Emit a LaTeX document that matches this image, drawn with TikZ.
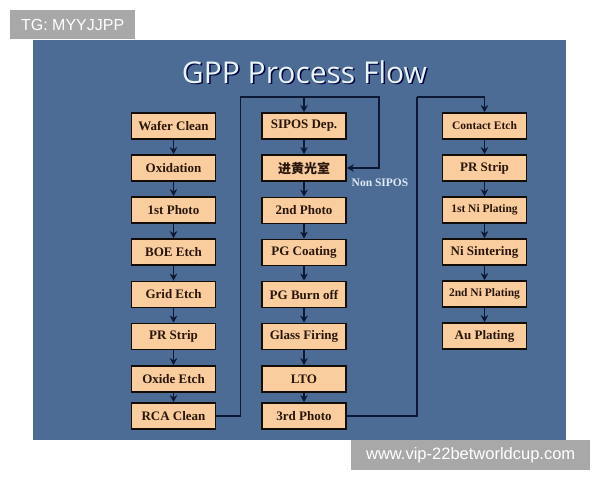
\documentclass[tikz,border=0pt]{standalone}
\usepackage{fontspec}
\setmainfont{Liberation Serif}
\newfontfamily\wmfont{Liberation Sans}
\newfontfamily\titlefont{Open Sans}
\newfontfamily\cjk{Noto Sans CJK SC}
\usetikzlibrary{arrows.meta,calc}
\definecolor{slideblue}{RGB}{76,107,149}
\definecolor{boxfill}{RGB}{250,205,158}
\definecolor{boxtext}{RGB}{40,22,10}
\definecolor{linecol}{RGB}{12,24,52}
\definecolor{wmgray}{RGB}{168,168,168}
\definecolor{titlecol}{RGB}{232,244,246}
\definecolor{notecol}{RGB}{225,235,245}
\tikzset{
  procbox/.style={draw=black!90!brown, line width=1.8pt, fill=boxfill, minimum width=84pt, minimum height=26pt, inner sep=0pt, text=boxtext, font=\bfseries\fontsize{13}{13}\selectfont},
  smallbox/.style={procbox, font=\bfseries\fontsize{11.5}{11.5}\selectfont},
  flow/.style={draw=linecol, line width=1.6pt, -{Stealth[length=7pt,width=7.5pt]}},
  plainline/.style={draw=linecol, line width=1.6pt},
  wmbox/.style={fill=wmgray, text=white, inner sep=0pt, font=\wmfont},
}
\begin{document}
\begin{tikzpicture}[x=1pt,y=-1pt]
\useasboundingbox (0,0) rectangle (600,480);
\fill[white] (0,0) rectangle (600,480);
\fill[slideblue] (33,40) rectangle (566,440);
% watermarks
\node[wmbox, minimum width=125pt, minimum height=29pt, anchor=north west] (tg) at (10,10) {\fontsize{16}{16}\selectfont TG: MYYJJPP};
\node[wmbox, minimum width=239pt, minimum height=30pt, anchor=north west] (url) at (351,440) {\fontsize{16.5}{16.5}\selectfont www.vip-22betworldcup.com};
% title
\node[text=black!75!blue, font=\titlefont\fontsize{30}{30}\selectfont] (titleshadow) at (306,73.5) {GPP Process Flow};
\node[text=titlecol, font=\titlefont\fontsize{30}{30}\selectfont] (title) at (304.5,72) {GPP Process Flow};
% column 1
\node[procbox] (a1) at (173.5,126) {Wafer Clean};
\node[procbox] (a2) at (173.5,168) {Oxidation};
\node[procbox] (a3) at (173.5,210) {1st Photo};
\node[procbox] (a4) at (173.5,252) {BOE Etch};
\node[procbox] (a5) at (173.5,294.5) {Grid Etch};
\node[procbox] (a6) at (173.5,336.5) {PR Strip};
\node[procbox] (a7) at (173.5,379) {Oxide Etch};
\node[procbox] (a8) at (173.5,416) {RCA Clean};
% column 2
\node[procbox] (b1) at (304,126) {SIPOS Dep.};
\node[procbox, font=\cjk\bfseries\fontsize{13}{13}\selectfont] (b2) at (304,168) {进黄光室};
\node[procbox] (b3) at (304,210.5) {2nd Photo};
\node[procbox] (b4) at (304,252.5) {PG Coating};
\node[procbox] (b5) at (304,294.5) {PG Burn off};
\node[procbox] (b6) at (304,336.5) {Glass Firing};
\node[procbox] (b7) at (304,379) {LTO};
\node[procbox] (b8) at (304,416) {3rd Photo};
% column 3
\node[smallbox] (c1) at (484.5,126) {Contact Etch};
\node[procbox] (c2) at (484.5,168) {PR Strip};
\node[smallbox] (c3) at (484.5,210) {1st Ni Plating};
\node[procbox] (c4) at (484.5,252) {Ni Sintering};
\node[smallbox] (c5) at (484.5,294) {2nd Ni Plating};
\node[procbox] (c6) at (484.5,336) {Au Plating};
% note
\node[text=notecol, font=\bfseries\fontsize{11.5}{11.5}\selectfont] (note) at (380,183) {Non SIPOS};
% vertical arrows
\foreach \p/\q in {a1/a2,a2/a3,a3/a4,a4/a5,a5/a6,a6/a7,a7/a8,b1/b2,b2/b3,b3/b4,b4/b5,b5/b6,b6/b7,b7/b8,c1/c2,c2/c3,c3/c4,c4/c5,c5/c6}
  \draw[flow] (\p.south) -- (\q.north);
% loop connectors
\coordinate (k1) at (240.5,97);
\coordinate (k2) at (304,97);
\coordinate (k3) at (379,97);
\coordinate (k4) at (417,97);
\draw[plainline] (a8.east) -| (k1) -- (k2);
\draw[flow] (k2) -- (b1.north);
\draw[flow] (k2) -- (k3) |- (b2.east);
\draw[plainline] (b8.east) -| (k4);
\draw[flow] (k4) -| (c1.north);
\end{tikzpicture}
\end{document}
